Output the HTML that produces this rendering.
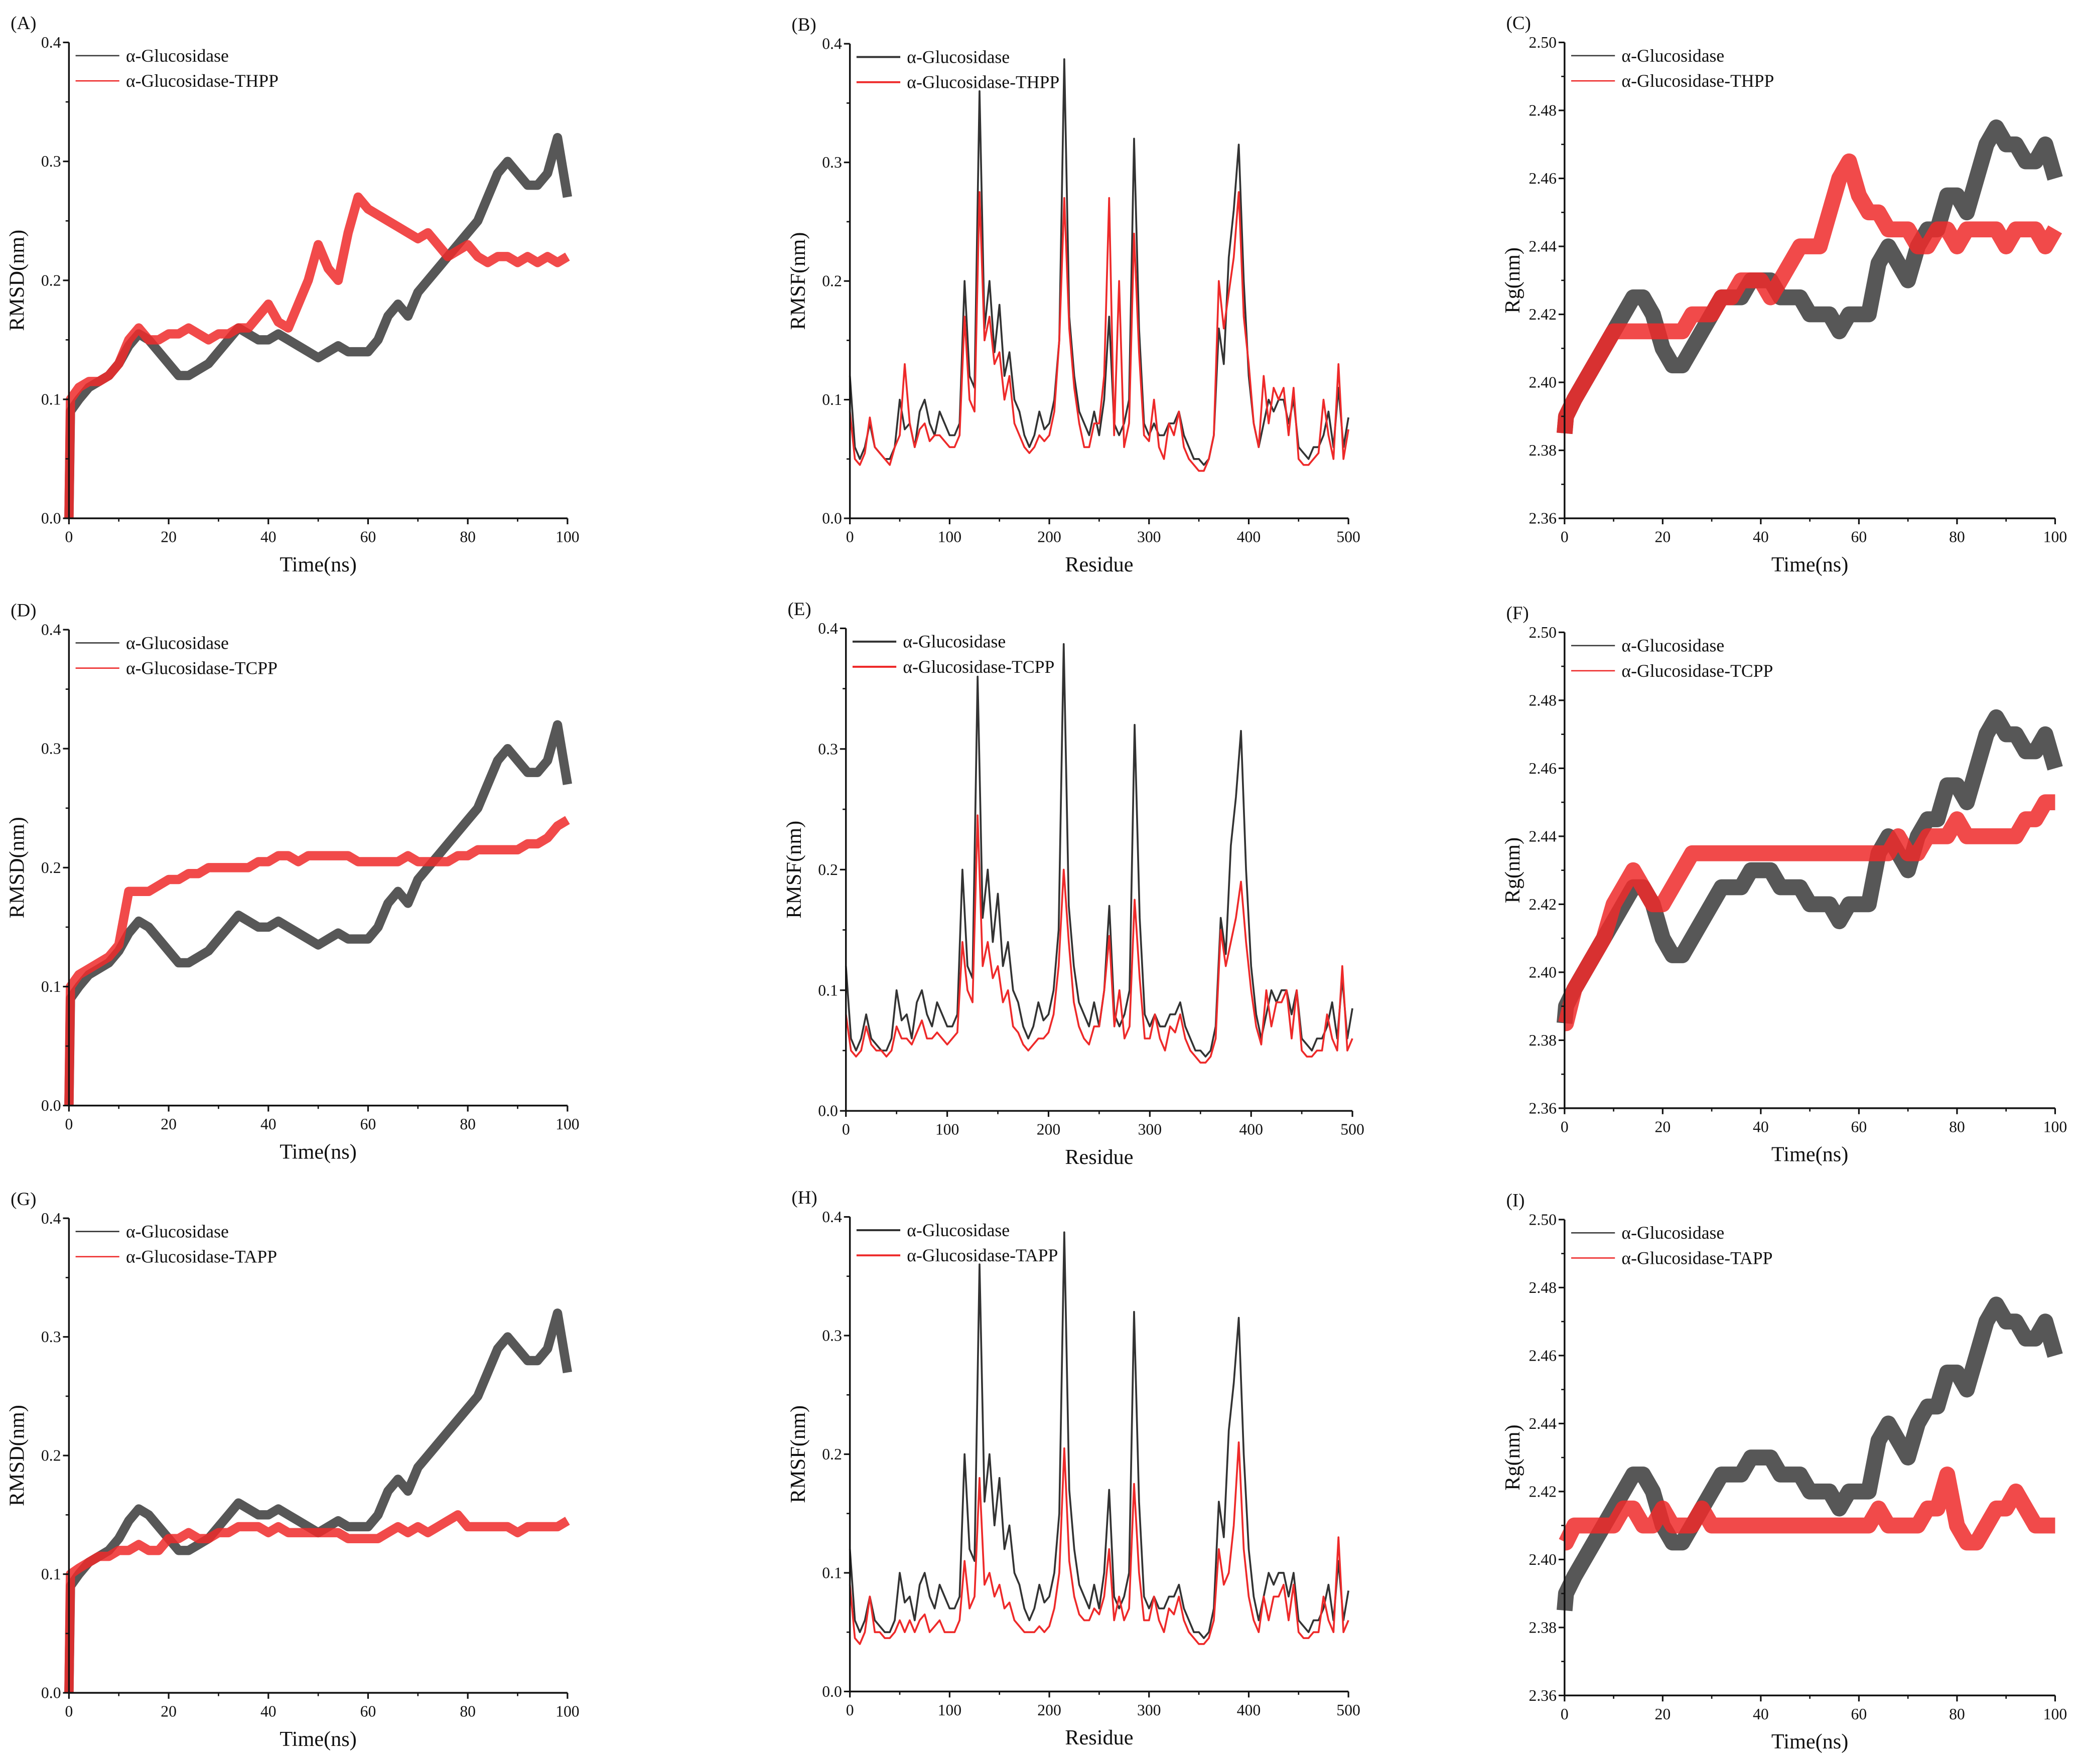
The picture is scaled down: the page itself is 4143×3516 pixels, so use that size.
<!DOCTYPE html>
<html><head><meta charset="utf-8"><style>
html,body{margin:0;padding:0;background:#fff;}
svg{display:block;}
text{font-family:"Liberation Serif",serif;fill:#111;}
</style></head><body>
<svg id="fig" width="4143" height="3516" viewBox="0 0 1568 1330.7" preserveAspectRatio="none" xmlns="http://www.w3.org/2000/svg"></svg>
<script>
// ---------- data ----------
const timeNs = [0,0.3,2,4,6,8,10,12,14,16,18,20,22,24,26,28,30,32,34,36,38,40,42,44,46,48,50,52,54,56,58,60,62,64,66,68,70,72,74,76,78,80,82,84,86,88,90,92,94,96,98,100];
const rmsdApo = [0,0.09,0.10,0.11,0.115,0.12,0.13,0.145,0.155,0.15,0.14,0.13,0.12,0.12,0.125,0.13,0.14,0.15,0.16,0.155,0.15,0.15,0.155,0.15,0.145,0.14,0.135,0.14,0.145,0.14,0.14,0.14,0.15,0.17,0.18,0.17,0.19,0.2,0.21,0.22,0.23,0.24,0.25,0.27,0.29,0.3,0.29,0.28,0.28,0.29,0.32,0.27];
const rmsdTHPP = [0,0.1,0.11,0.115,0.115,0.12,0.13,0.15,0.16,0.15,0.15,0.155,0.155,0.16,0.155,0.15,0.155,0.155,0.16,0.16,0.17,0.18,0.165,0.16,0.18,0.2,0.23,0.21,0.2,0.24,0.27,0.26,0.255,0.25,0.245,0.24,0.235,0.24,0.23,0.22,0.225,0.23,0.22,0.215,0.22,0.22,0.215,0.22,0.215,0.22,0.215,0.22];
const rmsdTCPP = [0,0.1,0.11,0.115,0.12,0.125,0.135,0.18,0.18,0.18,0.185,0.19,0.19,0.195,0.195,0.2,0.2,0.2,0.2,0.2,0.205,0.205,0.21,0.21,0.205,0.21,0.21,0.21,0.21,0.21,0.205,0.205,0.205,0.205,0.205,0.21,0.205,0.205,0.205,0.205,0.21,0.21,0.215,0.215,0.215,0.215,0.215,0.22,0.22,0.225,0.235,0.24];
const rmsdTAPP = [0,0.1,0.105,0.11,0.115,0.115,0.12,0.12,0.125,0.12,0.12,0.13,0.13,0.135,0.13,0.13,0.135,0.135,0.14,0.14,0.14,0.135,0.14,0.135,0.135,0.135,0.135,0.135,0.135,0.13,0.13,0.13,0.13,0.135,0.14,0.135,0.14,0.135,0.14,0.145,0.15,0.14,0.14,0.14,0.14,0.14,0.135,0.14,0.14,0.14,0.14,0.145];
const rgApo = [2.385,2.39,2.395,2.40,2.405,2.41,2.415,2.42,2.425,2.425,2.42,2.41,2.405,2.405,2.41,2.415,2.42,2.425,2.425,2.425,2.43,2.43,2.43,2.425,2.425,2.425,2.42,2.42,2.42,2.415,2.42,2.42,2.42,2.435,2.44,2.435,2.43,2.44,2.445,2.445,2.455,2.455,2.45,2.46,2.47,2.475,2.47,2.47,2.465,2.465,2.47,2.46];
const rgTHPP = [2.385,2.39,2.395,2.40,2.405,2.41,2.415,2.415,2.415,2.415,2.415,2.415,2.415,2.415,2.42,2.42,2.42,2.425,2.425,2.43,2.43,2.43,2.425,2.43,2.435,2.44,2.44,2.44,2.45,2.46,2.465,2.455,2.45,2.45,2.445,2.445,2.445,2.44,2.44,2.445,2.445,2.44,2.445,2.445,2.445,2.445,2.44,2.445,2.445,2.445,2.44,2.445];
const rgTCPP = [2.385,2.385,2.395,2.40,2.405,2.41,2.42,2.425,2.43,2.425,2.42,2.42,2.425,2.43,2.435,2.435,2.435,2.435,2.435,2.435,2.435,2.435,2.435,2.435,2.435,2.435,2.435,2.435,2.435,2.435,2.435,2.435,2.435,2.435,2.435,2.44,2.435,2.435,2.44,2.44,2.44,2.445,2.44,2.44,2.44,2.44,2.44,2.44,2.445,2.445,2.45,2.45];
const rgTAPP = [2.405,2.405,2.41,2.41,2.41,2.41,2.41,2.415,2.415,2.41,2.41,2.415,2.41,2.41,2.41,2.415,2.41,2.41,2.41,2.41,2.41,2.41,2.41,2.41,2.41,2.41,2.41,2.41,2.41,2.41,2.41,2.41,2.41,2.415,2.41,2.41,2.41,2.41,2.415,2.415,2.425,2.41,2.405,2.405,2.41,2.415,2.415,2.42,2.415,2.41,2.41,2.41];
const residues = Array.from({length:101},(_,i)=>i*5);
const rmsfApo = [0.12,0.06,0.05,0.06,0.08,0.06,0.055,0.05,0.05,0.06,0.1,0.075,0.08,0.06,0.09,0.1,0.08,0.07,0.09,0.08,0.07,0.07,0.08,0.2,0.12,0.11,0.36,0.16,0.2,0.14,0.18,0.12,0.14,0.1,0.09,0.07,0.06,0.07,0.09,0.075,0.08,0.1,0.15,0.387,0.17,0.12,0.09,0.08,0.07,0.09,0.07,0.1,0.17,0.08,0.07,0.08,0.1,0.32,0.16,0.08,0.07,0.08,0.07,0.07,0.08,0.08,0.09,0.07,0.06,0.05,0.05,0.045,0.05,0.07,0.16,0.13,0.22,0.26,0.315,0.2,0.12,0.08,0.06,0.08,0.1,0.09,0.1,0.1,0.08,0.1,0.06,0.055,0.05,0.06,0.06,0.07,0.09,0.06,0.11,0.06,0.085];
const rmsfTHPP = [0.09,0.05,0.045,0.055,0.085,0.06,0.055,0.05,0.045,0.06,0.07,0.13,0.08,0.06,0.075,0.08,0.065,0.07,0.07,0.065,0.06,0.06,0.07,0.17,0.1,0.09,0.275,0.15,0.17,0.13,0.14,0.1,0.12,0.08,0.07,0.06,0.055,0.06,0.07,0.065,0.07,0.09,0.15,0.27,0.16,0.11,0.08,0.06,0.06,0.08,0.08,0.12,0.27,0.07,0.2,0.06,0.08,0.24,0.14,0.07,0.065,0.1,0.06,0.05,0.08,0.07,0.09,0.06,0.05,0.045,0.04,0.04,0.05,0.07,0.2,0.16,0.19,0.22,0.275,0.17,0.13,0.08,0.06,0.12,0.08,0.11,0.1,0.11,0.07,0.11,0.05,0.045,0.045,0.05,0.055,0.1,0.07,0.05,0.13,0.05,0.075];
const rmsfTCPP = [0.08,0.05,0.045,0.05,0.07,0.055,0.05,0.05,0.045,0.05,0.07,0.06,0.06,0.055,0.065,0.075,0.06,0.06,0.065,0.06,0.055,0.06,0.065,0.14,0.1,0.09,0.245,0.12,0.14,0.11,0.12,0.09,0.1,0.07,0.065,0.055,0.05,0.055,0.06,0.06,0.065,0.08,0.12,0.2,0.14,0.09,0.07,0.06,0.055,0.07,0.07,0.1,0.145,0.07,0.1,0.06,0.07,0.175,0.11,0.06,0.06,0.08,0.06,0.05,0.07,0.065,0.08,0.06,0.05,0.045,0.04,0.04,0.045,0.06,0.15,0.12,0.14,0.16,0.19,0.14,0.1,0.07,0.055,0.1,0.07,0.09,0.09,0.1,0.06,0.1,0.05,0.045,0.045,0.05,0.05,0.08,0.06,0.05,0.12,0.05,0.06];
const rmsfTAPP = [0.09,0.045,0.04,0.05,0.08,0.05,0.05,0.045,0.045,0.05,0.06,0.05,0.06,0.05,0.06,0.065,0.05,0.055,0.06,0.05,0.05,0.05,0.06,0.11,0.07,0.08,0.18,0.09,0.1,0.08,0.09,0.07,0.075,0.06,0.055,0.05,0.05,0.05,0.055,0.05,0.055,0.07,0.1,0.205,0.11,0.08,0.065,0.06,0.06,0.07,0.065,0.08,0.12,0.06,0.08,0.06,0.07,0.175,0.1,0.06,0.06,0.08,0.06,0.05,0.07,0.065,0.08,0.06,0.05,0.045,0.04,0.04,0.045,0.06,0.12,0.09,0.1,0.14,0.21,0.12,0.08,0.06,0.05,0.08,0.06,0.08,0.08,0.09,0.06,0.09,0.05,0.045,0.045,0.05,0.05,0.08,0.06,0.05,0.13,0.05,0.06];
const rmsdTicks = ["0.0","0.1","0.2","0.3","0.4"];
const rgTicks = ["2.36","2.38","2.40","2.42","2.44","2.46","2.48","2.50"];
const timeTicks = ["0","20","40","60","80","100"];
const resTicks = ["0","100","200","300","400","500"];

// ---------- drawing ----------
const NS="http://www.w3.org/2000/svg";
const svg=document.getElementById('fig');
function el(tag,attrs,parent){const e=document.createElementNS(NS,tag);for(const k in attrs)e.setAttribute(k,attrs[k]);(parent||svg).appendChild(e);return e;}

function panel(cfg){
  const g=el('g',{});
  
  
  const {x0,x1,yT,yB,xmin,xmax,ymin,ymax}=cfg;
  const sx=v=>x0+(v-xmin)/(xmax-xmin)*(x1-x0);
  const sy=v=>yB-(v-ymin)/(ymax-ymin)*(yB-yT);
  cfg.series.forEach(s=>{
    let d='';
    s.y.forEach((v,i)=>{d+=(i?'L':'M')+sx(s.x[i]).toFixed(2)+' '+sy(v).toFixed(2);});
    const p=el('path',{d:d,fill:'none',stroke:s.color,'stroke-width':s.w,'stroke-linejoin':'round','stroke-linecap':'butt','stroke-opacity':s.op||1},g);
    
    
  });
  const ax=el('path',{d:`M${x0} ${yT}L${x0} ${yB}L${x1} ${yB}`,fill:'none',stroke:'#111','stroke-width':1.3},g);
  
  
  const xt=cfg.xTicks;
  xt.forEach((lab,i)=>{
    const v=xmin+i*(xmax-xmin)/(xt.length-1);
    el('line',{x1:sx(v),x2:sx(v),y1:yB,y2:yB+4.5,stroke:'#111','stroke-width':1.2},g);
    if(i<xt.length-1){const m=v+(xmax-xmin)/(xt.length-1)/2;el('line',{x1:sx(m),x2:sx(m),y1:yB,y2:yB+2.5,stroke:'#111','stroke-width':1},g);}
    const t=el('text',{x:sx(v),y:yB+18,'text-anchor':'middle','font-size':12},g);t.textContent=lab;
    
    
  });
  const yt=cfg.yTicks;
  yt.forEach((lab,i)=>{
    const v=ymin+i*(ymax-ymin)/(yt.length-1);
    el('line',{x1:x0-4.5,x2:x0,y1:sy(v),y2:sy(v),stroke:'#111','stroke-width':1.2},g);
    if(i<yt.length-1){const m=v+(ymax-ymin)/(yt.length-1)/2;el('line',{x1:x0-2.5,x2:x0,y1:sy(m),y2:sy(m),stroke:'#111','stroke-width':1},g);}
    const t=el('text',{x:x0-6,y:sy(v)+4,'text-anchor':'end','font-size':12},g);t.textContent=lab;
    
    
  });
  const xtitle=el('text',{x:(x0+x1)/2,y:yB+40,'text-anchor':'middle','font-size':16},g);xtitle.textContent=cfg.xTitle;
  
  
  const yc=(yT+yB)/2, yx=x0-34;
  const ytitle=el('text',{x:yx,y:yc,'text-anchor':'middle','font-size':16,transform:`rotate(-90 ${yx} ${yc})`},g);ytitle.textContent=cfg.yTitle;
  
  
  const pl=el('text',{x:x0-44,y:yT-10,'font-size':14},g);pl.textContent='('+cfg.id+')';
  
  
  const lg=el('g',{},g);
  
  
  [['α-Glucosidase',cfg.series[0].color,cfg.legW0],['α-Glucosidase-'+cfg.lig,'#ee2a2a',cfg.legW1]].forEach((it,i)=>{
    const yy=yT+10+i*19;
    el('line',{x1:x0+5,x2:x0+38,y1:yy,y2:yy,stroke:it[1],'stroke-width':it[2]},lg);
    const t=el('text',{x:x0+43,y:yy+4.5,'font-size':13.5},lg);t.textContent=it[0];
    
    
  });
}

const ligs=['THPP','TCPP','TAPP'];
const rmsdRed=[rmsdTHPP,rmsdTCPP,rmsdTAPP], rgRed=[rgTHPP,rgTCPP,rgTAPP], rmsfRed=[rmsfTHPP,rmsfTCPP,rmsfTAPP];
const rows=[
 {A:{id:'A',yT:32,yB:391},B:{id:'B',x0:641,x1:1017,yT:33,yB:391},C:{id:'C',yT:32,yB:391}},
 {A:{id:'D',yT:475,yB:834},B:{id:'E',x0:638,x1:1020,yT:474,yB:838},C:{id:'F',yT:477,yB:836}},
 {A:{id:'G',yT:919,yB:1277},B:{id:'H',x0:641,x1:1017,yT:918,yB:1276},C:{id:'I',yT:920,yB:1279}}
];
rows.forEach((r,k)=>{
  panel({id:r.A.id,lig:ligs[k],x0:52,x1:428,yT:r.A.yT,yB:r.A.yB,xmin:0,xmax:100,ymin:0,ymax:0.4,xTicks:timeTicks,yTicks:rmsdTicks,xTitle:'Time(ns)',yTitle:'RMSD(nm)',legW0:1,legW1:1,
    series:[{name:'rmsd-apo',x:timeNs,y:rmsdApo,color:'#3a3a3a',w:7,op:0.85},{name:'rmsd-'+ligs[k].toLowerCase(),x:timeNs,y:rmsdRed[k],color:'#ee2a2a',w:7,op:0.85}]});
  panel({id:r.B.id,lig:ligs[k],x0:r.B.x0,x1:r.B.x1,yT:r.B.yT,yB:r.B.yB,xmin:0,xmax:500,ymin:0,ymax:0.4,xTicks:resTicks,yTicks:rmsdTicks,xTitle:'Residue',yTitle:'RMSF(nm)',legW0:1.5,legW1:1.5,
    series:[{name:'rmsf-apo',x:residues,y:rmsfApo,color:'#333',w:1.4},{name:'rmsf-'+ligs[k].toLowerCase(),x:residues,y:rmsfRed[k],color:'#ee2a2a',w:1.4}]});
  panel({id:r.C.id,lig:ligs[k],x0:1180,x1:1550,yT:r.C.yT,yB:r.C.yB,xmin:0,xmax:100,ymin:2.36,ymax:2.50,xTicks:timeTicks,yTicks:rgTicks,xTitle:'Time(ns)',yTitle:'Rg(nm)',legW0:1,legW1:1,
    series:[{name:'rg-apo',x:timeNs,y:rgApo,color:'#3a3a3a',w:12,op:0.85},{name:'rg-'+ligs[k].toLowerCase(),x:timeNs,y:rgRed[k],color:'#ee2a2a',w:12,op:0.85}]});
});
</script>
</body></html>
